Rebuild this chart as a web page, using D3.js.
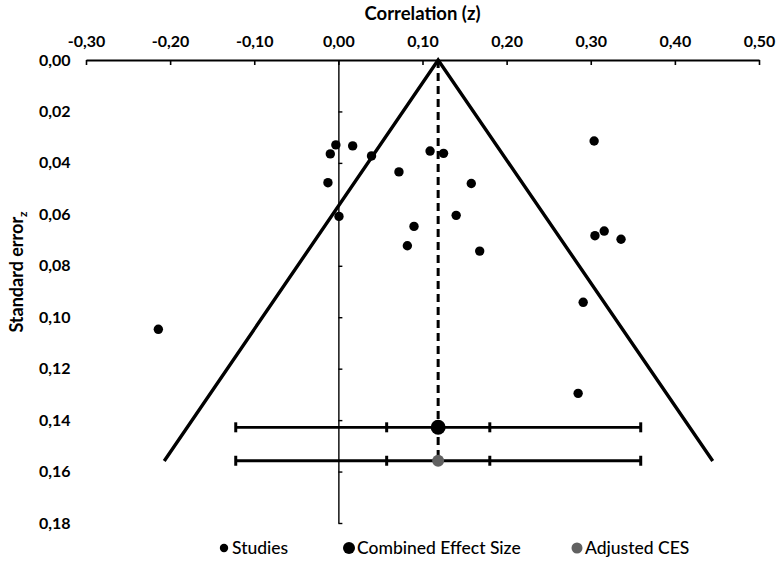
<!DOCTYPE html>
<html>
<head>
<meta charset="utf-8">
<script src="https://cdn.jsdelivr.net/npm/d3@7"></script>
<style>
  html, body { margin: 0; padding: 0; background: #fff; }
  svg { display: block; font-family: Lato, "Open Sans", "DejaVu Sans", sans-serif; }
</style>
</head>
<body>
<svg id="chart" width="777" height="562"></svg>
<script>
// ---- data ----
const studyZ  = [-0.003, 0.017, -0.0096, 0.0394, 0.109, 0.125, 0.072, 0.158, -0.0124, 0.0007, 0.140, 0.0899, 0.082, 0.168, 0.304, 0.305, 0.316, 0.336, 0.291, -0.214, 0.285];
const studySE = [0.0330, 0.0334, 0.0365, 0.0373, 0.0354, 0.0363, 0.0435, 0.0480, 0.0477, 0.0608, 0.0604, 0.0647, 0.0722, 0.0743, 0.0315, 0.0683, 0.0665, 0.0697, 0.0942, 0.1047, 0.1296];

const combinedEstimate = 0.1186;
const funnelBottomSE = 0.1559;
const funnelLimits = [-0.207, 0.445];

const summaryNames = ["Combined Effect Size", "Adjusted CES"];
const summaryEst   = [0.1186, 0.1186];
const summaryRowSE = [0.1428, 0.1558];
const summaryInner = [[0.0574, 0.180], [0.0574, 0.180]];
const summaryOuter = [[-0.122, 0.3594], [-0.122, 0.3594]];

const xTicks = [-0.3, -0.2, -0.1, 0.0, 0.1, 0.2, 0.3, 0.4, 0.5];
const yTicks = [0.00, 0.02, 0.04, 0.06, 0.08, 0.10, 0.12, 0.14, 0.16, 0.18];
const legendLabels = ["Studies", "Combined Effect Size", "Adjusted CES"];

// ---- setup ----
const svg = d3.select("#chart");
const x = d3.scaleLinear().domain([-0.3, 0.5]).range([86, 759]);
const y = d3.scaleLinear().domain([0, 0.18]).range([60, 523]);
const fmt = d => (d < -1e-9 ? "-" : "") + Math.abs(d).toFixed(2).replace(".", ",");

// x axis (top)
const xAxis = svg.append("g")
  .attr("transform", `translate(0,${y(0)})`)
  .call(d3.axisTop(x).tickValues(xTicks).tickSizeInner(-5).tickSizeOuter(0).tickFormat(fmt));
xAxis.select(".domain").attr("stroke", "#000").attr("stroke-width", 2);
xAxis.selectAll(".tick line").attr("stroke", "#000").attr("stroke-width", 1.6);
xAxis.selectAll(".tick text")
  .attr("y", -13).attr("dy", 0)
  .attr("fill", "#000")
  .style("font-size", "16px").style("font-weight", "bold")
  .style("font-family", "Lato, 'Open Sans', sans-serif");

// x title
svg.append("text")
  .attr("x", (x.range()[0] + x.range()[1]) / 2).attr("y", 20)
  .attr("text-anchor", "middle")
  .style("font-size", "18.5px").style("font-weight", "bold")
  .text("Correlation (z)");

// y axis (vertical line at z = 0)
const yAxis = svg.append("g")
  .attr("transform", `translate(${x(0)},0)`)
  .call(d3.axisRight(y).tickValues(yTicks.filter(d => d > 0)).tickSizeInner(4).tickSizeOuter(0).tickFormat(""));
yAxis.select(".domain").attr("stroke", "#000").attr("stroke-width", 1.4);
yAxis.selectAll(".tick line").attr("stroke", "#000").attr("stroke-width", 1.4);

// y tick labels on the left
svg.append("g").selectAll("text").data(yTicks).join("text")
  .attr("x", 70.5).attr("y", d => y(d)).attr("dy", "0.35em")
  .attr("text-anchor", "end")
  .style("font-size", "16px").style("font-weight", "bold")
  .text(fmt);

// y title
const yTitle = svg.append("text")
  .attr("transform", `translate(23,${272}) rotate(-90)`)
  .attr("text-anchor", "middle")
  .style("font-size", "18px").style("font-weight", "bold");
yTitle.append("tspan").text("Standard error");
yTitle.append("tspan").attr("dy", 4).style("font-size", "12px").text("z");

// funnel
const line = d3.line().x(d => x(d[0])).y(d => y(d[1]));
svg.append("path")
  .datum([[funnelLimits[0], funnelBottomSE], [combinedEstimate, 0], [funnelLimits[1], funnelBottomSE]])
  .attr("d", line)
  .attr("fill", "none").attr("stroke", "#000").attr("stroke-width", 3.4)
  .attr("stroke-linejoin", "miter");

// dashed vertical line
svg.append("path")
  .datum([[combinedEstimate, 0], [combinedEstimate, summaryRowSE[1]]])
  .attr("d", line)
  .attr("fill", "none").attr("stroke", "#000").attr("stroke-width", 3)
  .attr("stroke-dasharray", "8,5");

// error bars
const bars = svg.append("g");
summaryNames.forEach((n, i) => {
  const yy = y(summaryRowSE[i]);
  bars.append("line")
    .attr("x1", x(summaryOuter[i][0])).attr("x2", x(summaryOuter[i][1]))
    .attr("y1", yy).attr("y2", yy)
    .attr("stroke", "#000").attr("stroke-width", 2.8);
  [summaryOuter[i][0], summaryOuter[i][1], summaryInner[i][0], summaryInner[i][1]].forEach(v => {
    bars.append("line")
      .attr("x1", x(v)).attr("x2", x(v))
      .attr("y1", yy - 5).attr("y2", yy + 5)
      .attr("stroke", "#000").attr("stroke-width", 3);
  });
});

// studies
svg.append("g").selectAll("circle").data(studyZ.map((z, i) => [z, studySE[i]])).join("circle")
  .attr("cx", d => x(d[0])).attr("cy", d => y(d[1])).attr("r", 4.7)
  .attr("fill", "#000");

// summary points
const sumColors = ["#000", "#616161"];
const sumR = [7.5, 6];
svg.append("g").selectAll("circle").data(summaryEst.map((e, i) => [e, summaryRowSE[i], i])).join("circle")
  .attr("cx", d => x(d[0])).attr("cy", d => y(d[1])).attr("r", d => sumR[d[2]])
  .attr("fill", d => sumColors[d[2]]);

// legend
const legX = [224, 349, 577];
const legColors = ["#000", "#000", "#616161"];
const legR = [4.2, 6, 5.5];
const leg = svg.append("g");
legendLabels.forEach((t, i) => {
  leg.append("circle").attr("cx", legX[i]).attr("cy", 548).attr("r", legR[i]).attr("fill", legColors[i]);
  leg.append("text").attr("x", legX[i] + 8).attr("y", 554)
    .style("font-size", "17.5px").style("font-weight", "500").text(t);
});
</script>
</body>
</html>
